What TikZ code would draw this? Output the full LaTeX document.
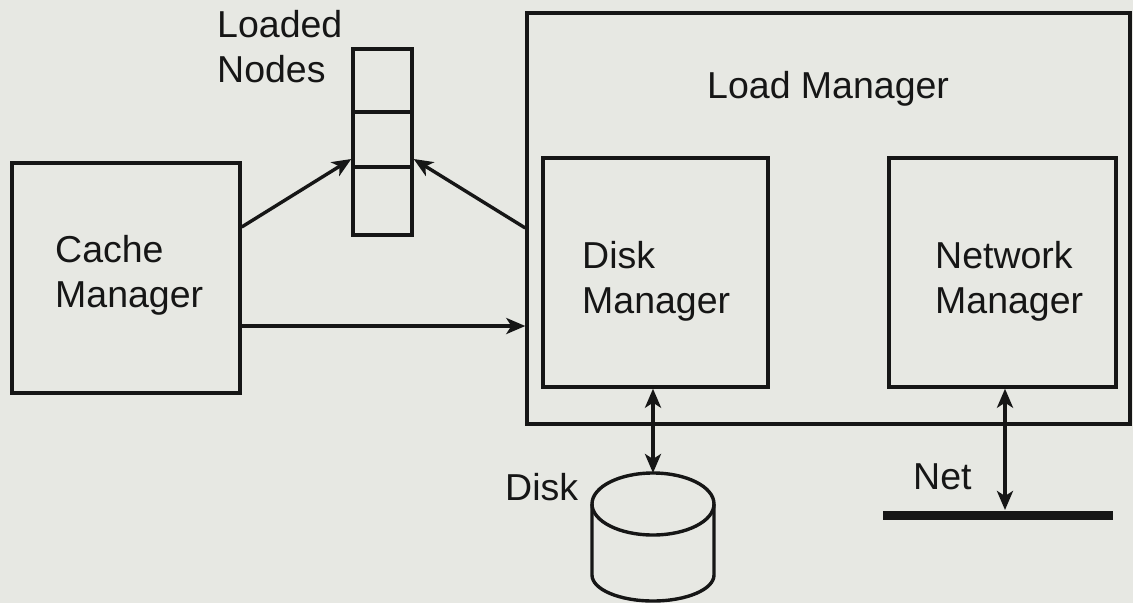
\documentclass[tikz,border=0pt]{standalone}
\usepackage{fontspec}
\setmainfont{Liberation Sans}
\usetikzlibrary{arrows.meta,calc}
\definecolor{paper}{RGB}{231,232,227}
\definecolor{ink}{RGB}{22,22,22}
\tikzset{
  box/.style={draw=ink,line width=3.4pt,rectangle,inner sep=0pt},
  lbl/.style={font=\fontsize{37.5}{45}\selectfont,text=ink,inner sep=0pt,align=left,anchor=base west},
  arr/.style={draw=ink,line width=3.4pt,-{Stealth[length=19pt,width=16pt,inset=5pt]}},
  darr/.style={draw=ink,line width=3.4pt,{Stealth[length=19pt,width=16pt,inset=5pt]}-{Stealth[length=19pt,width=16pt,inset=5pt]}},
}
\begin{document}
\begin{tikzpicture}[x=1pt,y=-1pt]
\fill[paper] (0,0) rectangle (1133,603);
\useasboundingbox (0,0) rectangle (1133,603);

% boxes
\node[box,minimum width=228pt,minimum height=230pt] (cache) at (126,278) {};
\node[box,minimum width=603pt,minimum height=411pt] (load) at (828.5,218.5) {};
\node[box,minimum width=225pt,minimum height=229pt] (diskm) at (655.5,272.5) {};
\node[box,minimum width=227pt,minimum height=229pt] (netm) at (1002.5,272.5) {};

% loaded nodes stack
\node[box,minimum width=59pt,minimum height=63pt] (cell1) at (382.5,80.5) {};
\node[box,minimum width=59pt,minimum height=55pt] (cell2) at (382.5,139.5) {};
\node[box,minimum width=59pt,minimum height=68pt] (cell3) at (382.5,201) {};

% labels (anchor = baseline of last line)
\node[lbl] (lcache) at (55,307) {Cache\\Manager};
\node[lbl] (ldisk) at (582,313) {Disk\\Manager};
\node[lbl] (lnet) at (935,313) {Network\\Manager};
\node[lbl] (lload) at (707,98) {Load Manager};
\node[lbl] (lnodes) at (217,82) {Loaded\\Nodes};
\node[lbl] (ldisklbl) at (505,500) {Disk};
\node[lbl] (lnetlbl) at (913,489) {Net};

% disk cylinder
\coordinate (disktop) at (653,473);
\draw[ink,line width=3.4pt] (653,504) ellipse[x radius=61,y radius=31];
\draw[ink,line width=3.4pt] (592,504) -- (592,575) arc[start angle=180,end angle=360,x radius=61,y radius=-26] -- (714,504);

% net line
\coordinate (netL) at (883,515);
\coordinate (netR) at (1113,515);
\draw[ink,line width=9pt] (netL) -- (netR);
\coordinate (nettip) at (1005,510);

% connectors
\draw[arr] ([yshift=51pt]cache.east) -- ([yshift=-19.5pt]cell2.west);
\draw[arr] ([yshift=-9.5pt]load.west) -- ([yshift=-19.5pt]cell2.east);
\draw[arr] ([yshift=-48pt]cache.east) coordinate (c1) -- (load.west |- c1);
\draw[darr] ([xshift=-2.5pt]diskm.south) -- (disktop);
\draw[darr] ([xshift=2.5pt]netm.south) -- (nettip);
\end{tikzpicture}
\end{document}
